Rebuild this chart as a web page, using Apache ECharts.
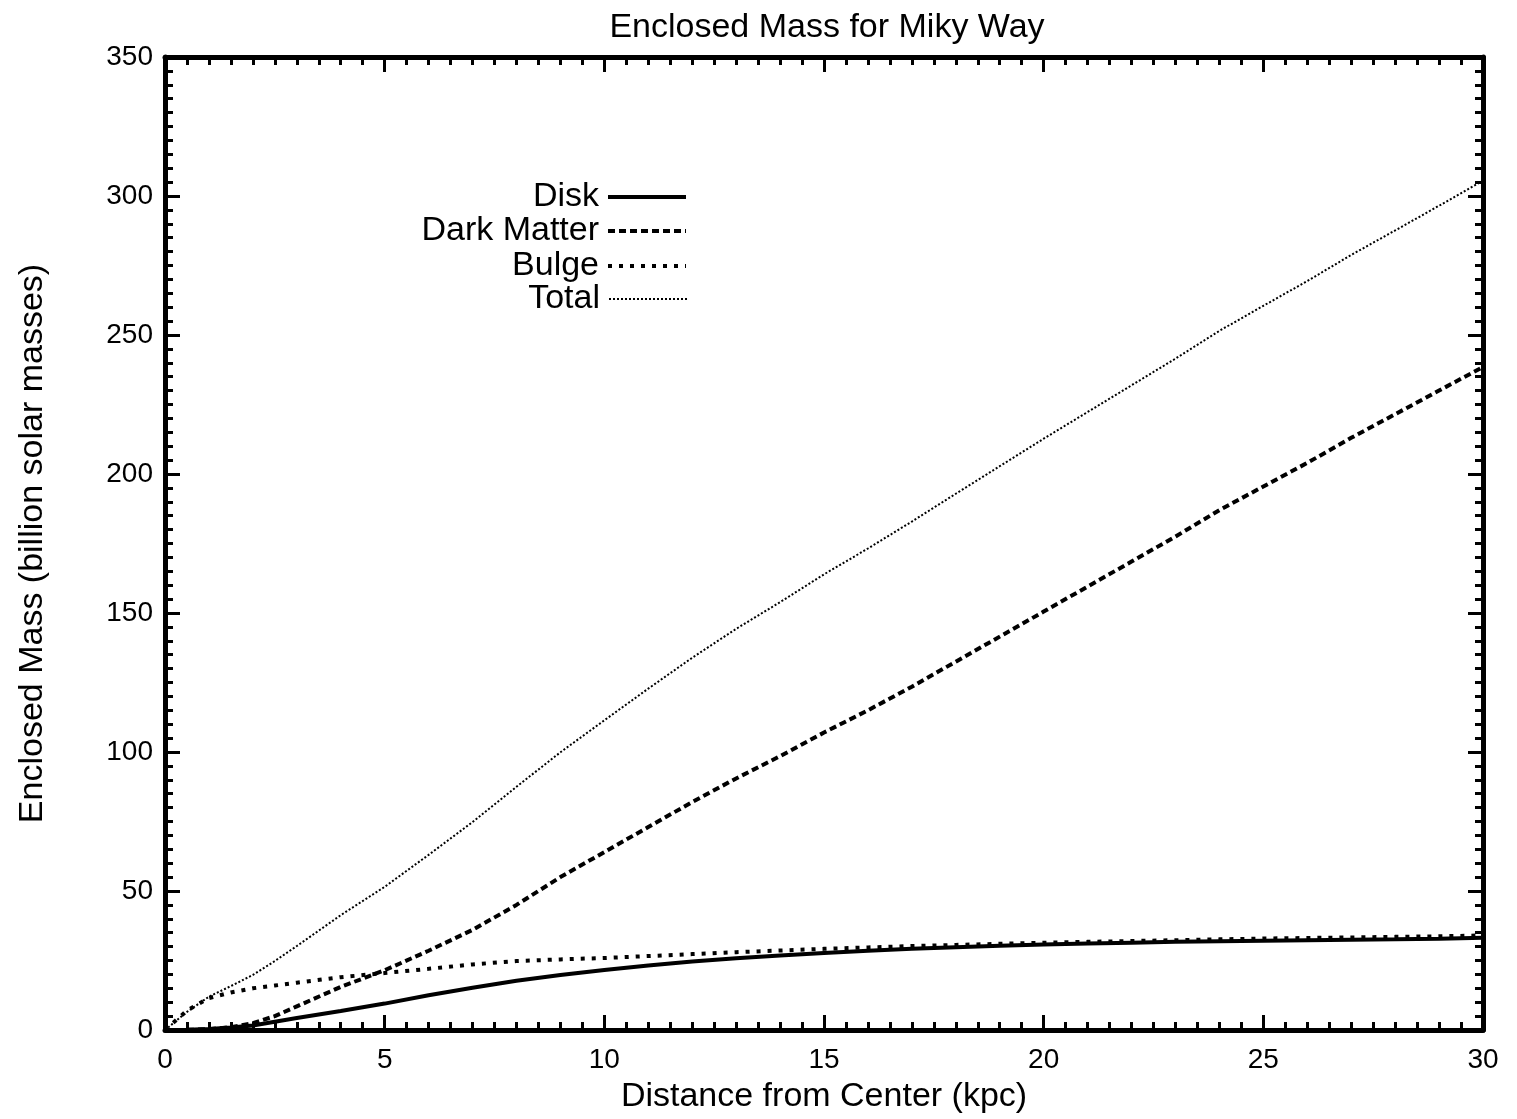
<!DOCTYPE html>
<html>
<head>
<meta charset="utf-8">
<script src="https://cdn.jsdelivr.net/npm/echarts@6/dist/echarts.min.js"></script>
<style>
  html, body { margin: 0; padding: 0; background: #fff; }
  #main { width: 1517px; height: 1119px; }
</style>
</head>
<body>
<div id="main"></div>
<script>
// radius in kpc
const radius = [0, 0.5, 1, 1.5, 2, 2.5, 3, 4, 5, 6, 7, 8, 9, 10, 11, 12, 13, 14, 15,
  16, 17, 18, 19, 20, 21, 22, 23, 24, 25, 26, 27, 28, 29, 30];

// enclosed mass, billion solar masses
const disk = [0, 0.1, 0.4, 0.9, 1.6, 3, 4.3, 6.8, 9.5, 12.5, 15.2, 17.7, 19.8, 21.6, 23.2, 24.6,
  25.8, 26.8, 27.7, 28.5, 29.2, 29.8, 30.3, 30.8, 31.1, 31.4, 31.7, 31.9, 32.1, 32.3, 32.5,
  32.6, 32.8, 33.2];
const darkMatter = [0, 0.05, 0.3, 1, 2.5, 5, 8.5, 15.5, 21.5, 28.5, 36, 45, 55, 64, 73, 82,
  90.5, 98.5, 107, 115, 123.5, 132.5, 141.5, 150.5, 159.5, 168.5, 177.5, 187, 195.5, 204,
  213, 221.5, 230, 238.5];
const bulge = [0, 7, 11.5, 13.5, 15, 16, 17, 19, 20.5, 22, 23.6, 24.8, 25.4, 25.9, 26.6, 27.3,
  28, 28.6, 29.2, 29.7, 30.2, 30.6, 31, 31.4, 31.7, 32, 32.3, 32.6, 32.9, 33.1, 33.3, 33.5,
  33.7, 34];
const total = [0, 6.5, 12, 15.8, 19.8, 24.8, 30.2, 41.3, 51.5, 63, 74.8, 87.5, 99.9, 111.4,
  122.8, 133.9, 144.3, 153.9, 163.9, 173.2, 182.9, 192.9, 202.8, 212.7, 222.3, 231.9, 241.5,
  251.5, 260.5, 269.4, 278.8, 287.6, 296.5, 305.5];

const seriesNames = ["Disk", "Dark Matter", "Bulge", "Total"];

const font = "Liberation Sans";
const pairs = (ys) => radius.map((r, i) => [r, ys[i]]);

const chart = echarts.init(document.getElementById("main"));

const frameAxis = {
  axisLine: { show: true, onZero: false, lineStyle: { color: "#000", width: 5 } },
  axisTick: { show: true, inside: true, length: 15, lineStyle: { color: "#000", width: 3 } },
  minorTick: { show: true, splitNumber: 10, length: 8, lineStyle: { color: "#000", width: 3 } },
  splitLine: { show: false },
};

const lineStyles = [
  { color: "#000", width: 4, type: "solid" },
  { color: "#000", width: 4, type: [7, 4] },
  { color: "#000", width: 4, type: [4, 7] },
  { color: "#000", width: 2, type: [2, 2] },
];
const values = [disk, darkMatter, bulge, total];

const legendRows = [180, 214, 249, 282];
const legends = seriesNames.map((name, i) => ({
  data: [name],
  orient: "vertical",
  align: "right",
  right: 829,
  top: legendRows[i],
  padding: 0,
  itemWidth: 78,
  itemHeight: 14,
  selectedMode: false,
  itemStyle: { color: "rgba(0,0,0,0)", borderWidth: 0, opacity: 0 },
  lineStyle: { ...lineStyles[i] },
  textStyle: { fontFamily: font, fontSize: 34, color: "#000", padding: [0, 4, 0, 0] },
}));

const options = {
  backgroundColor: "#fff",
  animation: false,
  title: {
    text: "Enclosed Mass for Miky Way",
    left: 822,
    textAlign: "center",
    top: 6,
    textStyle: { fontFamily: font, fontSize: 34, fontWeight: "normal", color: "#000" },
  },
  legend: legends,
  grid: { left: 165, right: 34, top: 57, bottom: 89, containLabel: false },
  xAxis: [
    {
      type: "value",
      position: "bottom",
      min: 0,
      max: 30,
      interval: 5,
      name: "Distance from Center (kpc)",
      nameLocation: "middle",
      nameGap: 50,
      nameTextStyle: { fontFamily: font, fontSize: 34, color: "#000" },
      axisLabel: { fontFamily: font, fontSize: 28, color: "#000", margin: 16 },
      ...frameAxis,
    },
    {
      type: "value",
      position: "top",
      min: 0,
      max: 30,
      interval: 5,
      axisLabel: { show: false },
      ...frameAxis,
    },
  ],
  yAxis: [
    {
      type: "value",
      position: "left",
      min: 0,
      max: 350,
      interval: 50,
      name: "Enclosed Mass (billion solar masses)",
      nameLocation: "middle",
      nameGap: 115,
      nameTextStyle: { fontFamily: font, fontSize: 34, color: "#000" },
      axisLabel: { fontFamily: font, fontSize: 28, color: "#000", margin: 12 },
      ...frameAxis,
    },
    {
      type: "value",
      position: "right",
      min: 0,
      max: 350,
      interval: 50,
      axisLabel: { show: false },
      ...frameAxis,
    },
  ],
  series: seriesNames.map((name, i) => ({
    name,
    type: "line",
    symbol: "none",
    showSymbol: false,
    xAxisIndex: 0,
    yAxisIndex: 0,
    lineStyle: lineStyles[i],
    itemStyle: { color: "#000" },
    data: pairs(values[i]),
  })),
};

chart.setOption(options);
</script>
</body>
</html>
